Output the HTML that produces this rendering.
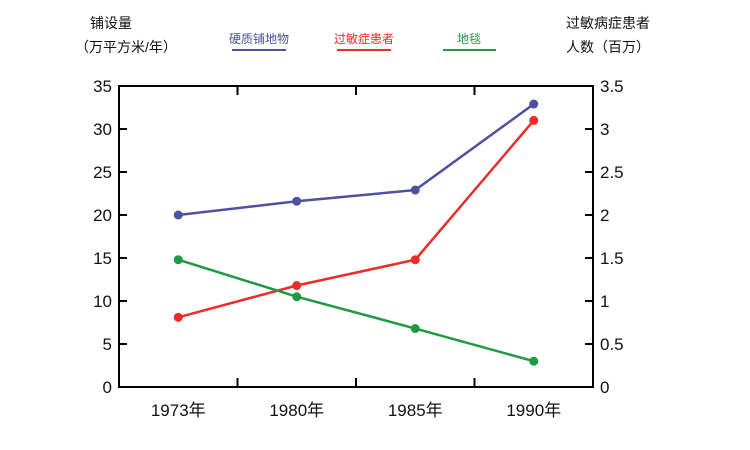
<!DOCTYPE html>
<html><head><meta charset="utf-8"><style>
html,body{margin:0;padding:0;background:#fff;}
svg{display:block;font-family:"Liberation Sans","Noto Sans CJK SC",sans-serif;}
</style></head><body>
<svg id="chart" width="750" height="450" viewBox="0 0 750 450">
  <text x="111" y="28" font-size="14" text-anchor="middle" fill="#111">铺设量</text>
  <text x="126" y="52" font-size="14" text-anchor="middle" fill="#111">（万平方米/年）</text>
  <text x="650" y="28" font-size="14" text-anchor="end" fill="#111">过敏病症患者</text>
  <text x="650" y="52" font-size="14" text-anchor="end" fill="#111">人数（百万）</text>
  <g>
    <g><text x="259" y="43" font-size="12" text-anchor="middle" fill="#4e51a0">硬质铺地物</text><line x1="232" y1="50" x2="286" y2="50" stroke="#4e51a0" stroke-width="2"/></g>
    <g><text x="364" y="43" font-size="12" text-anchor="middle" fill="#ee2a2a">过敏症患者</text><line x1="337" y1="50" x2="391" y2="50" stroke="#ee2a2a" stroke-width="2"/></g>
    <g><text x="469" y="43" font-size="12" text-anchor="middle" fill="#1f9a42">地毯</text><line x1="443" y1="50" x2="496" y2="50" stroke="#1f9a42" stroke-width="2"/></g>
  </g>
  <g id="axes"></g>
  <g id="marks"></g>
</svg>
<script>
const categories = ["1973年","1980年","1985年","1990年"];
const hardFloor = [20, 21.6, 22.9, 32.9];
const allergy = [0.81, 1.18, 1.48, 3.1];
const carpet = [14.8, 10.5, 6.8, 3.0];
const leftTicks = [0,5,10,15,20,25,30,35];
const rightTicks = ["0","0.5","1","1.5","2","2.5","3","3.5"];

const L=119,R=593,T=86,B=387;
const NS="http://www.w3.org/2000/svg";
const bw=(R-L)/categories.length;
function xs(i){return L+bw*(i+0.5);}
function yl(v){return B-(v/35)*(B-T);}
function yr(v){return B-(v/3.5)*(B-T);}
function mk(tag,attrs,parent){const e=document.createElementNS(NS,tag);for(const k in attrs)e.setAttribute(k,attrs[k]);parent.appendChild(e);return e;}
const axes=document.getElementById('axes'), marks=document.getElementById('marks');

const frame=mk('rect',{x:L,y:T,width:R-L,height:B-T,fill:'none',stroke:'#000','stroke-width':2},axes);



leftTicks.forEach((v,i)=>{
  const y=yl(v);
  const t=mk('line',{x1:L,y1:y,x2:L+8,y2:y,stroke:'#000','stroke-width':2},axes);
  
  
  const lb=mk('text',{x:L-7,y:y+6,'font-size':17,'text-anchor':'end',fill:'#111'},axes);
  lb.textContent=v;
  
  
  const t2=mk('line',{x1:R-8,y1:y,x2:R,y2:y,stroke:'#000','stroke-width':2},axes);
  
  
  const lb2=mk('text',{x:R+7,y:y+6,'font-size':17,'text-anchor':'start',fill:'#111'},axes);
  lb2.textContent=rightTicks[i];
  
  
});
categories.forEach((c,i)=>{
  if(i>0){
    const x=L+bw*i;
    const t=mk('line',{x1:x,y1:T,x2:x,y2:T+9,stroke:'#000','stroke-width':2},axes);
    
    
    const t2=mk('line',{x1:x,y1:B-9,x2:x,y2:B,stroke:'#000','stroke-width':2},axes);
    
    
  }
  const lb=mk('text',{x:xs(i),y:416,'font-size':17,'text-anchor':'middle',fill:'#111'},axes);
  lb.textContent=c;
  
  
});

function series(vals,yf,color,name){
  const pts=vals.map((v,i)=>xs(i)+','+yf(v)).join(' ');
  const pl=mk('polyline',{points:pts,fill:'none',stroke:color,'stroke-width':2.5},marks);
  
  
  vals.forEach((v,i)=>{
    const c=mk('circle',{cx:xs(i),cy:yf(v),r:4.5,fill:color},marks);
    
    
  });
}
series(hardFloor,yl,'#4e51a0','hard-floor');
series(allergy,yr,'#ee2a2a','allergy');
series(carpet,yl,'#1f9a42','carpet');
</script>
</body></html>
